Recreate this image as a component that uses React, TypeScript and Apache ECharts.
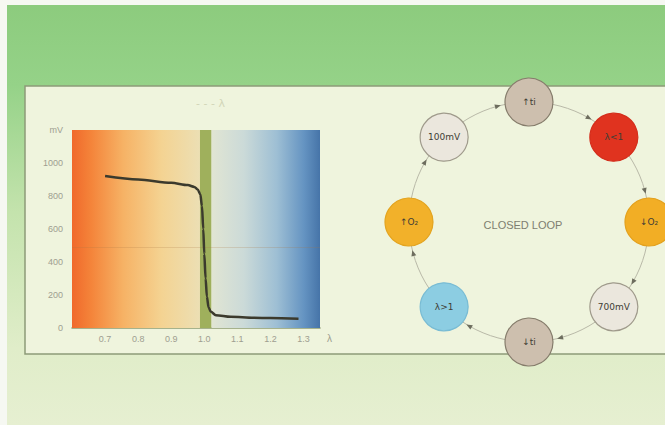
import React, { useEffect, useRef } from "react";
import * as echarts from "echarts";

// Lambda sensor characteristic
const lambdaValues = [0.7, 0.8, 0.9, 0.95, 0.97, 0.98, 0.988, 0.993, 0.997, 1.0, 1.004, 1.008, 1.013, 1.02, 1.035, 1.08, 1.15, 1.2, 1.285];
const sensorMv = [921, 900, 880, 866, 855, 840, 810, 740, 600, 450, 300, 190, 125, 98, 78, 68, 62, 60, 56];

// Y tick labels (1200 position carries the unit)
const yTickLabels: Record<number, string> = { 0: "0", 200: "200", 400: "400", 600: "600", 800: "800", 1000: "1000", 1200: "mV" };
// X tick labels
const xTickLabels = ["0.7", "0.8", "0.9", "1.0", "1.1", "1.2", "1.3"];

// Closed loop nodes, clockwise from top
const loopLabels = ["↑ti", "λ<1", "↓O₂", "700mV", "↓ti", "λ>1", "↑O₂", "100mV"];
const loopAngles = [0, 45, 90, 135, 180, 225, 270, 315];
const loopFill = ["#cdbfae", "#e0331f", "#f2ae25", "#ebe7dd", "#cdbfae", "#8ccde2", "#f2b12a", "#ebe7dd"];
const loopBorder = ["#857c6b", "#d42e1c", "#e3a11e", "#9f9a8b", "#857c6b", "#79bcd4", "#e3a420", "#9f9a8b"];

export default function App() {
  const ref = useRef<HTMLDivElement>(null);
  useEffect(() => {
    if (!ref.current) return;
    const chart = echarts.init(ref.current, null, { renderer: "svg" });
    const linePoints = lambdaValues.map((l, i) => [l, sensorMv[i]]);
    const nodeData = loopLabels.map((name, i) => ({
      name,
      value: [1, loopAngles[i]],
      itemStyle: { color: loopFill[i], borderColor: loopBorder[i], borderWidth: 1.2, opacity: 1 },
    }));
    const arrowData = loopAngles.map((a) => {
      const t = (a - 15 + 360) % 360;
      return { value: [1, t], symbolRotate: -(90 + t) };
    });
    chart.setOption({
      animation: false,
      graphic: [
        {
          type: "rect",
          z: -10,
          shape: { x: 0, y: 0, width: 665, height: 425 },
          style: {
            fill: new echarts.graphic.LinearGradient(0, 0, 0, 1, [
              { offset: 0, color: "#8ccb7d" },
              { offset: 0.2, color: "#95d288" },
              { offset: 0.5, color: "#c4e3ad" },
              { offset: 0.82, color: "#e0edc9" },
              { offset: 1, color: "#e6efd1" },
            ]),
          },
        },
        { type: "rect", z: -9, shape: { x: 0, y: 0, width: 7, height: 425 }, style: { fill: "#f6f8f2" } },
        { type: "rect", z: -9, shape: { x: 0, y: 0, width: 665, height: 5 }, style: { fill: "#f6f8f2" } },
        {
          type: "rect",
          z: -8,
          shape: { x: 25, y: 86, width: 660, height: 268 },
          style: { fill: "#eff4dd", stroke: "#8d9a78", lineWidth: 1.5 },
        },
        {
          type: "text",
          z: -7,
          left: 196,
          top: 98,
          style: { text: "- - - λ", fill: "#d2d6b8", fontSize: 11, fontFamily: "DejaVu Sans" },
        },
        {
          type: "text",
          z: 5,
          x: 523,
          y: 225,
          style: {
            text: "CLOSED LOOP",
            fill: "#7e7e70",
            fontSize: 11,
            fontFamily: "Liberation Sans",
            align: "center",
            verticalAlign: "middle",
          },
        },
      ],
      grid: { left: 72, top: 130, width: 248, height: 198, show: false },
      xAxis: {
        type: "value",
        min: 0.6,
        max: 1.35,
        interval: 0.1,
        splitLine: { show: false },
        axisTick: { show: false },
        axisLine: { lineStyle: { color: "#8f9c72", width: 1.5 } },
        axisLabel: {
          color: "#9e9e90",
          fontSize: 9,
          fontFamily: "Liberation Sans",
          margin: 6,
          showMaxLabel: false,
          formatter: (v: number) => {
            const s = v.toFixed(1);
            return v < 1.32 && xTickLabels.includes(s) ? s : "";
          },
        },
        name: "λ",
        nameLocation: "end",
        nameGap: 7,
        nameTextStyle: { color: "#9e9e90", fontSize: 10, verticalAlign: "top", padding: [5, 0, 0, 0] },
      },
      yAxis: {
        type: "value",
        min: 0,
        max: 1200,
        interval: 200,
        splitLine: { show: false },
        axisTick: { show: false },
        axisLine: { show: false },
        axisLabel: {
          color: "#9e9e90",
          fontSize: 9,
          fontFamily: "Liberation Sans",
          margin: 9,
          formatter: (v: number) => yTickLabels[v] ?? "",
        },
      },
      polar: { center: [529, 222], radius: 120 },
      angleAxis: {
        type: "value",
        min: 0,
        max: 360,
        startAngle: 90,
        clockwise: true,
        axisLine: { lineStyle: { color: "#b9b9a8", width: 1 } },
        axisTick: { show: false },
        axisLabel: { show: false },
        splitLine: { show: false },
      },
      radiusAxis: {
        type: "value",
        min: 0,
        max: 1,
        axisLine: { show: false },
        axisTick: { show: false },
        axisLabel: { show: false },
        splitLine: { show: false },
      },
      series: [
        {
          type: "line",
          data: linePoints,
          smooth: 0.3,
          smoothMonotone: "x",
          showSymbol: false,
          lineStyle: { color: "#3b3a2d", width: 2.5 },
          z: 5,
          markArea: {
            silent: true,
            data: [
              [
                {
                  xAxis: 0.6,
                  itemStyle: {
                    color: new echarts.graphic.LinearGradient(0, 0, 1, 0, [
                      { offset: 0, color: "#f0692b" },
                      { offset: 0.15, color: "#f4843a" },
                      { offset: 0.4, color: "#f6b265" },
                      { offset: 0.7, color: "#f4d392" },
                      { offset: 1, color: "#ecdfb4" },
                    ]),
                  },
                },
                { xAxis: 0.987 },
              ],
              [{ xAxis: 0.987, itemStyle: { color: "#9fb05c" } }, { xAxis: 1.022 }],
              [
                {
                  xAxis: 1.022,
                  itemStyle: {
                    color: new echarts.graphic.LinearGradient(0, 0, 1, 0, [
                      { offset: 0, color: "#e1e5d3" },
                      { offset: 0.3, color: "#cbdad8" },
                      { offset: 0.6, color: "#9ebfd4" },
                      { offset: 0.85, color: "#6594c2" },
                      { offset: 1, color: "#4674a8" },
                    ]),
                  },
                },
                { xAxis: 1.35 },
              ],
            ],
          },
          markLine: {
            silent: true,
            symbol: "none",
            label: { show: false },
            lineStyle: { color: "rgba(170,120,70,0.22)", type: "solid", width: 1 },
            data: [{ yAxis: 490 }],
          },
        },
        {
          type: "scatter",
          coordinateSystem: "polar",
          data: arrowData,
          symbol: "triangle",
          symbolSize: [5, 6],
          itemStyle: { color: "#6d6d5e", opacity: 1 },
          z: 3,
        },
        {
          type: "scatter",
          coordinateSystem: "polar",
          data: nodeData,
          symbolSize: 48,
          z: 4,
          label: {
            show: true,
            formatter: "{b}",
            color: "#3f3e35",
            fontSize: 9,
            fontFamily: "DejaVu Sans",
          },
        },
      ],
    });
    return () => chart.dispose();
  }, []);
  return <div ref={ref} style={{ position: "absolute", left: 0, top: 0, width: 665, height: 425 }} />;
}
